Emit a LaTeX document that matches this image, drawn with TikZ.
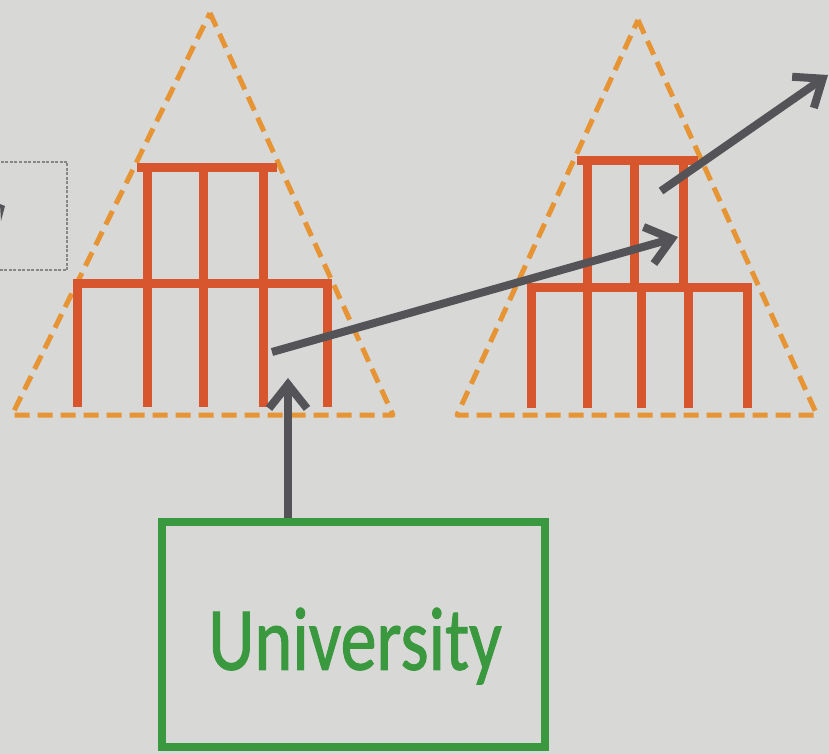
\documentclass[tikz,border=0pt]{standalone}
\usepackage{fontspec}
\usepackage{graphicx}
\setmainfont{Carlito}
\newfontfamily\unifont[FakeBold=1.2]{Carlito}
\usetikzlibrary{arrows.meta}
\definecolor{bg}{RGB}{216,216,215}
\definecolor{tri}{RGB}{230,148,52}
\definecolor{bar}{RGB}{216,86,46}
\definecolor{arrg}{RGB}{84,84,88}
\definecolor{grn}{RGB}{58,152,62}
\definecolor{boxg}{RGB}{135,135,138}
\tikzset{
  tridash/.style={draw=tri, line width=5pt, dash pattern=on 15pt off 8pt, line join=round},
  barline/.style={draw=bar, line width=9pt, line cap=butt, line join=miter},
  arr/.style={draw=arrg, line width=8pt, -{Straight Barb[length=24pt,width=38pt]}},
  unibox/.style={draw=grn, line width=8pt, minimum width=383pt, minimum height=225pt, inner sep=0pt},
  unitext/.style={text=grn, font=\unifont\fontsize{90}{90}\selectfont, inner sep=0pt},
}
\begin{document}
\begin{tikzpicture}[x=1pt,y=-1pt]
\useasboundingbox (0,0) rectangle (829,754);
\fill[bg] (0,0) rectangle (829,754);
\clip (0,0) rectangle (829,754);
% left partial box
\draw[boxg, line width=1.5pt, dash pattern=on 3pt off 1.5pt] (-5,162) rectangle (67,270);
\fill[arrg] (0,204) -- (5,206) -- (1,221) -- cycle;
% left triangle
\draw[tridash] (210,13) -- (393,415) -- (12,415) -- cycle;
% left building
\draw[barline] (137,168) -- (277,168);
\draw[barline] (147,168) -- (147,407);
\draw[barline] (203,168) -- (203,407);
\draw[barline] (263,168) -- (263,407);
\draw[barline] (77,407) -- (77,283) -- (327,283) -- (327,407);
% right triangle
\draw[tridash] (638,20) -- (817,415) -- (457,415) -- cycle;
% right building
\draw[barline] (577,161) -- (698,161);
\draw[barline] (587,161) -- (587,408);
\draw[barline] (634,161) -- (634,287);
\draw[barline] (683,161) -- (683,287);
\draw[barline] (531,408) -- (531,287) -- (747,287) -- (747,408);
\draw[barline] (641,287) -- (641,408);
\draw[barline] (688,287) -- (688,408);
% university box
\node[unibox] (uni) at (353.5,634.5) {};
\node[unitext] (unitxt) at (355,646) {\scalebox{0.8}[1]{University}};
% arrows
\coordinate (t1) at (288,378);
\coordinate (s2) at (272,352);
\coordinate (t2) at (678,237);
\coordinate (s3) at (661,191);
\coordinate (t3) at (828,75);
\draw[arr] (uni.north -| t1) -- (t1);
\draw[arr] (s2) -- (t2);
\draw[arr] (s3) -- (t3);
\end{tikzpicture}
\end{document}
